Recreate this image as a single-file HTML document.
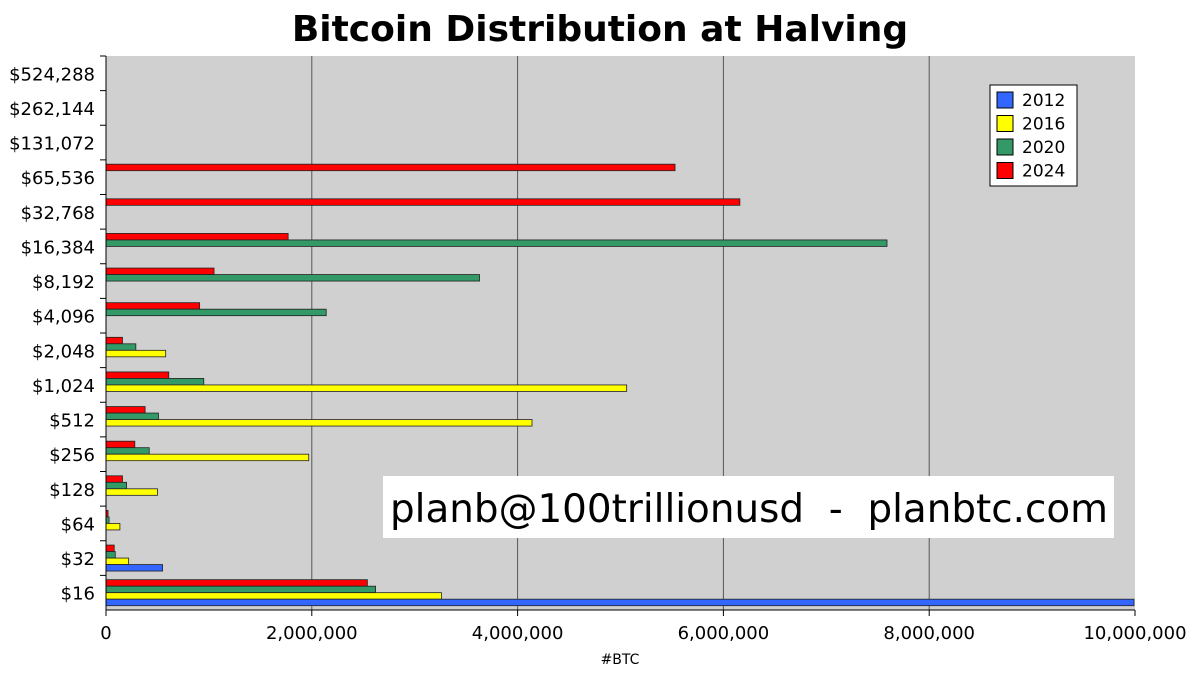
<!DOCTYPE html>
<html><head><meta charset="utf-8"><style>
body{margin:0;background:#fff;}
svg{display:block;font-family:"DejaVu Sans","Liberation Sans",sans-serif;}
</style></head><body>
<svg id="chart" width="1200" height="675">
<text x="600" y="41" text-anchor="middle" font-size="36" font-weight="bold">Bitcoin Distribution at Halving</text>
<rect x="106" y="56" width="1029" height="554" fill="#d0d0d0"/>
<g id="grid"></g><g id="bars"></g><g id="axes"></g>
<g>
<rect x="990" y="85" width="87" height="101" fill="#fff" stroke="#000"/>
<g id="legend"></g>
</g>
<g>
<rect x="383" y="476" width="731" height="62" fill="#fff"/>
<text x="390" y="522" font-size="39" textLength="718" lengthAdjust="spacingAndGlyphs" style="white-space:pre" xml:space="preserve">planb@100trillionusd  -  planbtc.com</text>
</g>
<text x="620" y="664" text-anchor="middle" font-size="14">#BTC</text>
</svg>
<script>
const categories=["$16","$32","$64","$128","$256","$512","$1,024","$2,048","$4,096","$8,192","$16,384","$32,768","$65,536","$131,072","$262,144","$524,288"];
const seriesNames=["2012","2016","2020","2024"];
const s2012=[9990000,550000,0,0,0,0,0,0,0,0,0,0,0,0,0,0];
const s2016=[3260000,220000,135000,500000,1970000,4140000,5060000,580000,0,0,0,0,0,0,0,0];
const s2020=[2620000,90000,30000,200000,420000,510000,950000,290000,2140000,3630000,7590000,0,0,0,0,0];
const s2024=[2540000,80000,20000,160000,280000,380000,610000,160000,910000,1050000,1770000,6160000,5530000,0,0,0];
const xTicks=[0,2000000,4000000,6000000,8000000,10000000];
const colors=["#3366ff","#ffff00","#339966","#ff0000"];
const X0=106,X1=1135,Y0=56,Y1=610,XMAX=10000000;
const NS="http://www.w3.org/2000/svg";
const x=v=>X0+(X1-X0)*v/XMAX;
const band=(Y1-Y0)/categories.length;
const bandTop=i=>Y1-(i+1)*band;
function mk(tag,attrs,parent,text){const e=document.createElementNS(NS,tag);for(const k in attrs)e.setAttribute(k,attrs[k]);if(text!==undefined)e.textContent=text;document.getElementById(parent).appendChild(e);return e;}
const fmt=v=>v.toLocaleString("en-US");
xTicks.forEach((t,i)=>{
  if(i>0&&i<xTicks.length-1){const g=mk("line",{x1:x(t),x2:x(t),y1:Y0,y2:Y1,stroke:"#555","stroke-width":1},"grid");
  
  }
  mk("line",{x1:x(t),x2:x(t),y1:Y1,y2:Y1+6,stroke:"#000"},"axes");
  const lb=mk("text",{x:x(t),y:Y1+29,"text-anchor":"middle","font-size":18},"axes","");
  lb.textContent=fmt(t);
  
  
});
const all=[s2012,s2016,s2020,s2024];
const bh=6.5;
categories.forEach((c,i)=>{
  const top=bandTop(i),mid=top+band/2;
  const lb=mk("text",{x:95,y:mid+7,"text-anchor":"end","font-size":18},"axes",c);
  
  
  mk("line",{x1:X0-6,x2:X0,y1:top,y2:top,stroke:"#000"},"axes");
  for(let s=3;s>=0;s--){
    const v=all[s][i]; if(!v) continue;
    const y=mid-2*bh+(3-s)*bh;
    const r=mk("rect",{x:X0,y:y,width:x(v)-X0,height:bh,fill:colors[s],stroke:"#222","stroke-width":0.8},"bars");
    
    
  }
});
mk("line",{x1:X0,x2:X0,y1:Y0,y2:Y1,stroke:"#000"},"axes");
mk("line",{x1:X0,x2:X1,y1:Y1,y2:Y1,stroke:"#000"},"axes");
seriesNames.forEach((n,i)=>{
  const y=92+i*23.5;
  const r=mk("rect",{x:997,y:y,width:16,height:16,fill:colors[i],stroke:"#000"},"legend");
  
  
  const t=mk("text",{x:1022,y:y+14,"font-size":17},"legend",n);
  
  
});
</script>
</body></html>
